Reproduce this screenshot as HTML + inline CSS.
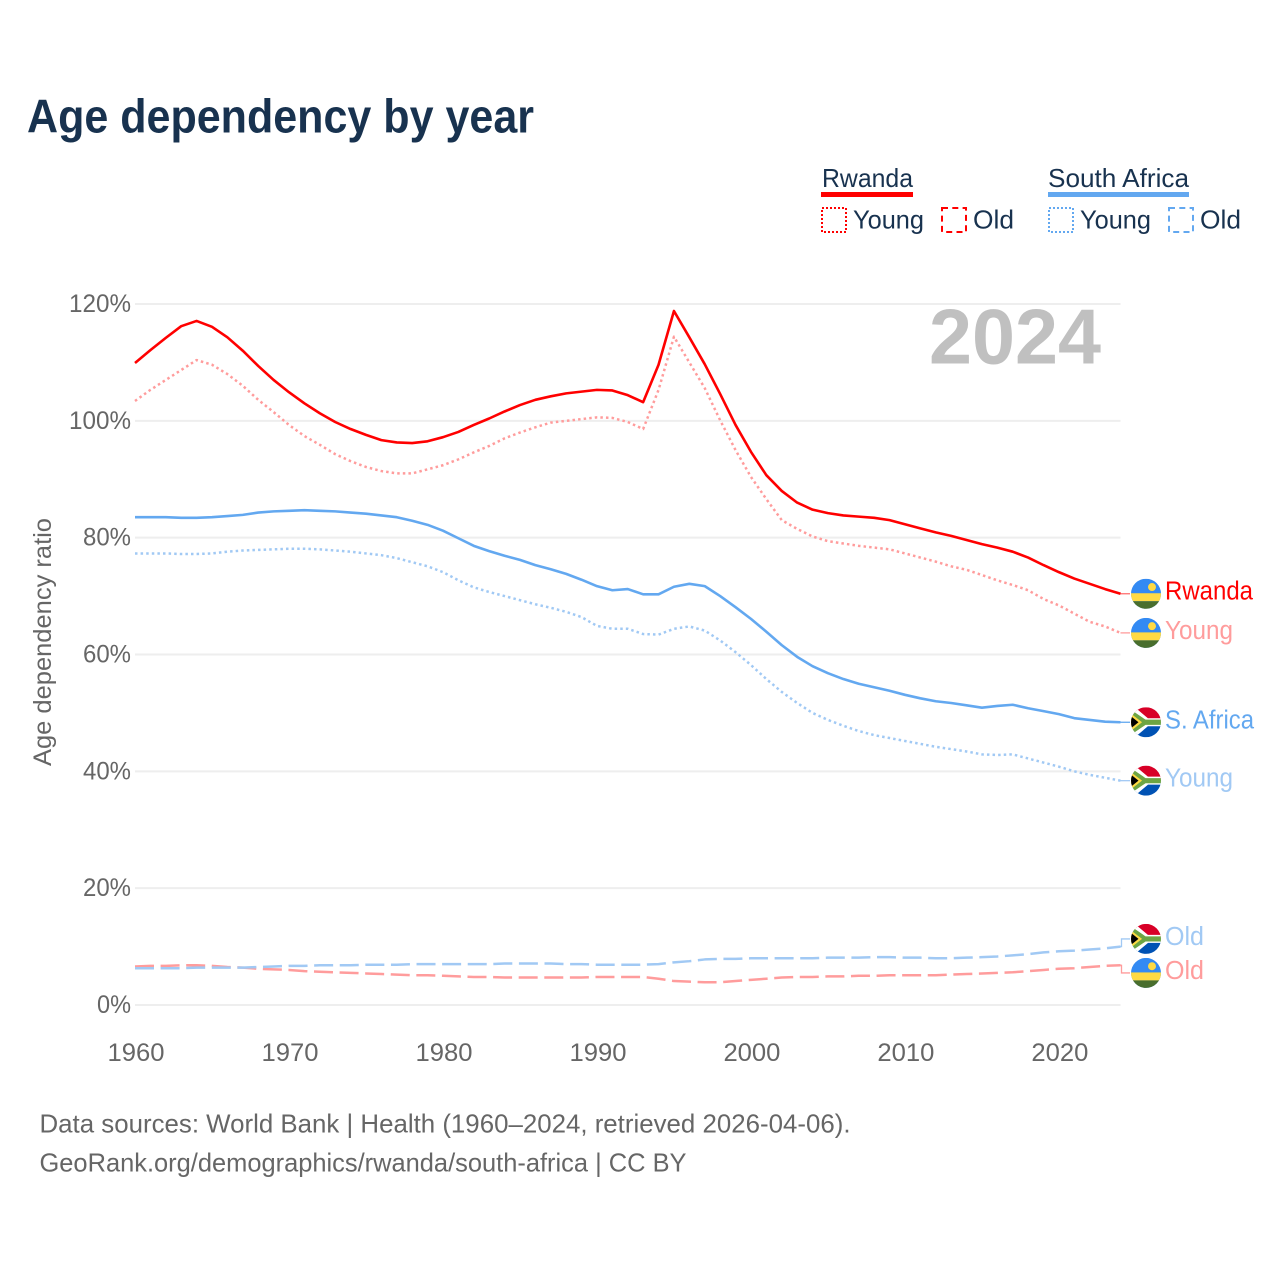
<!DOCTYPE html>
<html lang="en">
<head>
<meta charset="utf-8">
<title>Age dependency by year</title>
<style>
html,body{margin:0;padding:0;background:#fff;}
svg{display:block;font-family:"Liberation Sans",sans-serif;}
</style>
</head>
<body>
<svg id="chart" xmlns="http://www.w3.org/2000/svg" width="1280" height="1280" viewBox="0 0 1280 1280">
  <defs>
    <clipPath id="flag-clip"><circle cx="0" cy="0" r="15"/></clipPath>
    <g id="flag-rw" clip-path="url(#flag-clip)">
      <rect x="-15" y="-15" width="30" height="30" fill="#338af3"/>
      <rect x="-15" y="-0.5" width="30" height="8" fill="#ffda44"/>
      <rect x="-15" y="7.5" width="30" height="8" fill="#496e2d"/>
      <circle cx="6" cy="-6.7" r="4" fill="#ffda44"/>
    </g>
    <g id="flag-za" clip-path="url(#flag-clip)">
      <rect x="-15" y="-15" width="30" height="15" fill="#d80027"/>
      <rect x="-15" y="0" width="30" height="15" fill="#0052b4"/>
      <path d="M-15-15 L1-1.5 H15 V1.5 H1 L-15 15Z" fill="#fff" stroke="#fff" stroke-width="5"/>
      <path d="M-15-12.5 L-0.5-2.6 H15 V2.6 H-0.5 L-15 12.5Z" fill="#6da544"/>
      <path d="M-15-7 L-6 0 L-15 7Z" fill="#ffda44" stroke="#ffda44" stroke-width="2.5"/>
      <path d="M-15-6 L-7.5 0 L-15 6Z" fill="#000"/>
    </g>
  </defs>
  <rect x="0" y="0" width="1280" height="1280" fill="#fff"/>
  <text x="27" y="132.5" font-size="47" font-weight="700" fill="#18324f" textLength="507" lengthAdjust="spacingAndGlyphs">Age dependency by year</text>

  <g font-size="26" fill="#18324f">
    <g>
      <text x="822" y="187" textLength="91" lengthAdjust="spacingAndGlyphs">Rwanda</text>
      <rect x="821" y="192" width="92" height="5" fill="#ff0000"/>
      <rect x="822" y="208" width="24" height="24" fill="none" stroke="#ff0000" stroke-width="2" stroke-dasharray="2 2"/>
      <text x="853" y="228.5" textLength="71" lengthAdjust="spacingAndGlyphs">Young</text>
      <rect x="942" y="208" width="24" height="24" fill="none" stroke="#ff0000" stroke-width="2" stroke-dasharray="6 4.3"/>
      <text x="973" y="228.5" textLength="41" lengthAdjust="spacingAndGlyphs">Old</text>
    </g>
    <g>
      <text x="1048" y="187" textLength="141" lengthAdjust="spacingAndGlyphs">South Africa</text>
      <rect x="1048" y="192" width="141" height="5" fill="#63a8f0"/>
      <rect x="1049" y="208" width="24" height="24" fill="none" stroke="#63a8f0" stroke-width="2" stroke-dasharray="2 2"/>
      <text x="1080" y="228.5" textLength="71" lengthAdjust="spacingAndGlyphs">Young</text>
      <rect x="1169" y="208" width="24" height="24" fill="none" stroke="#63a8f0" stroke-width="2" stroke-dasharray="6 4.3"/>
      <text x="1200" y="228.5" textLength="41" lengthAdjust="spacingAndGlyphs">Old</text>
    </g>
  </g>

  <g id="grid"></g>
  <text x="929" y="363.5" font-size="78" font-weight="700" fill="#c0c0c0" textLength="172" lengthAdjust="spacingAndGlyphs">2024</text>
  <g id="y-ticks" font-size="25" fill="#666"></g>
  <g id="x-ticks" font-size="25" fill="#666"></g>
  <text transform="translate(51,766) rotate(-90)" x="0" y="0" font-size="25" fill="#666" textLength="248" lengthAdjust="spacingAndGlyphs">Age dependency ratio</text>
  <g id="series"></g>
  <g id="end-labels"></g>

  <text x="39.5" y="1132.5" font-size="26" fill="#666" textLength="811" lengthAdjust="spacingAndGlyphs">Data sources: World Bank | Health (1960–2024, retrieved 2026-04-06).</text>
  <text x="39.5" y="1171.5" font-size="26" fill="#666" textLength="647" lengthAdjust="spacingAndGlyphs">GeoRank.org/demographics/rwanda/south-africa | CC BY</text>
</svg>
<script>
const firstYear = 1960;
const lastYear = 2024;
const yTickValues = [0, 20, 40, 60, 80, 100, 120];
const xTickValues = [1960, 1970, 1980, 1990, 2000, 2010, 2020];

const rwandaTotal = [109.9,112.1,114.2,116.2,117.1,116.1,114.3,112,109.4,107,104.9,103,101.3,99.8,98.6,97.6,96.7,96.3,96.2,96.5,97.2,98.1,99.3,100.4,101.6,102.7,103.6,104.2,104.7,105,105.3,105.2,104.4,103.2,109.6,118.8,114.3,109.7,104.6,99.3,94.7,90.7,88,86,84.8,84.2,83.8,83.6,83.4,83,82.3,81.6,80.9,80.3,79.6,78.9,78.3,77.6,76.6,75.3,74.1,73,72.1,71.2,70.4];
const rwandaYoung = [103.4,105.3,107,108.7,110.4,109.6,108,106,103.6,101.5,99.3,97.4,95.9,94.3,93.1,92.1,91.4,91,91,91.7,92.4,93.4,94.6,95.7,97,98,98.9,99.7,100,100.3,100.6,100.5,99.8,98.6,105.3,114.4,110,105.6,100.1,95,90.4,86.6,83,81.5,80.2,79.4,79,78.6,78.3,78,77.3,76.6,75.9,75.1,74.5,73.6,72.7,71.9,71,69.5,68.4,67,65.6,64.8,63.7];
const rwandaOld = [6.6,6.7,6.7,6.8,6.8,6.7,6.5,6.4,6.2,6.1,6,5.8,5.7,5.6,5.5,5.4,5.3,5.2,5.1,5.1,5,4.9,4.8,4.8,4.7,4.7,4.7,4.7,4.7,4.7,4.8,4.8,4.8,4.8,4.5,4.1,4,3.9,3.9,4.1,4.3,4.5,4.7,4.8,4.8,4.9,4.9,5,5,5.1,5.1,5.1,5.1,5.2,5.3,5.4,5.5,5.6,5.8,6,6.2,6.3,6.5,6.7,6.8];
const africaTotal = [83.5,83.5,83.5,83.4,83.4,83.5,83.7,83.9,84.3,84.5,84.6,84.7,84.6,84.5,84.3,84.1,83.8,83.5,82.9,82.2,81.2,79.9,78.6,77.7,76.9,76.2,75.3,74.6,73.8,72.8,71.7,71,71.2,70.3,70.3,71.6,72.1,71.7,70,68.1,66.1,63.9,61.6,59.6,58,56.8,55.8,55,54.4,53.8,53.1,52.5,52,51.7,51.3,50.9,51.2,51.4,50.8,50.3,49.8,49.1,48.8,48.5,48.4];
const africaYoung = [77.3,77.3,77.3,77.2,77.2,77.3,77.6,77.8,77.9,78,78.1,78.1,78,77.8,77.6,77.3,77,76.5,75.8,75.1,74.1,72.7,71.5,70.7,70,69.3,68.6,68,67.3,66.4,64.9,64.4,64.4,63.5,63.4,64.4,64.8,64.1,62.4,60.4,58.2,55.8,53.6,51.7,50,48.8,47.8,46.9,46.2,45.7,45.2,44.7,44.2,43.8,43.4,42.9,42.8,42.9,42.2,41.5,40.8,40,39.4,38.9,38.4];
const africaOld = [6.3,6.3,6.3,6.3,6.4,6.4,6.4,6.4,6.5,6.6,6.7,6.7,6.8,6.8,6.8,6.9,6.9,6.9,7,7,7,7,7,7,7.1,7.1,7.1,7.1,7,7,6.9,6.9,6.9,6.9,7,7.3,7.5,7.8,7.9,7.9,8,8,8,8,8,8.1,8.1,8.1,8.2,8.2,8.1,8.1,8,8,8.1,8.2,8.3,8.5,8.7,9,9.2,9.3,9.5,9.7,10];

const seriesList = [
  {key:'rwanda-total', values:rwandaTotal, color:'#ff0000', dash:'', width:2.6, flag:'flag-rw', label:'Rwanda', labelWidth:88},
  {key:'rwanda-young', values:rwandaYoung, color:'#ff9c9c', dash:'2.5 3.1', width:2.5, flag:'flag-rw', label:'Young', labelWidth:68},
  {key:'rwanda-old', values:rwandaOld, color:'#ff9c9c', dash:'19 6.6', width:2.5, flag:'flag-rw', label:'Old', labelWidth:39},
  {key:'south-africa-total', values:africaTotal, color:'#63a8f0', dash:'', width:2.6, flag:'flag-za', label:'S. Africa', labelWidth:89},
  {key:'south-africa-young', values:africaYoung, color:'#a1c9f4', dash:'2.5 3.1', width:2.5, flag:'flag-za', label:'Young', labelWidth:68},
  {key:'south-africa-old', values:africaOld, color:'#a1c9f4', dash:'19 6.6', width:2.5, flag:'flag-za', label:'Old', labelWidth:39}
];

const NS = 'http://www.w3.org/2000/svg';
const xScale = function (year) { return 135 + (year - firstYear) * (985.5 / (lastYear - firstYear)); };
const yScale = function (v) { return 1005 - v * (701 / 120); };

function make(tag, parent, attrs) {
  const node = document.createElementNS(NS, tag);
  for (const k in attrs) node.setAttribute(k, attrs[k]);
  parent.appendChild(node);
  return node;
}

const gridGroup = document.getElementById('grid');
const yTickGroup = document.getElementById('y-ticks');
const xTickGroup = document.getElementById('x-ticks');
const seriesGroup = document.getElementById('series');
const labelGroup = document.getElementById('end-labels');

yTickValues.forEach(function (v) {
  const line = make('line', gridGroup, {x1:135, x2:xScale(lastYear), y1:yScale(v), y2:yScale(v), stroke:'#eeeeee', 'stroke-width':2});
  
  
  const t = make('text', yTickGroup, {x:131, y:yScale(v) + 8, 'text-anchor':'end', textLength:String(v).length * 14 + 20, lengthAdjust:'spacingAndGlyphs'});
  t.textContent = v + '%';
  
  
});

xTickValues.forEach(function (yr) {
  const t = make('text', xTickGroup, {x:xScale(yr) + 1, y:1061, 'text-anchor':'middle', textLength:57, lengthAdjust:'spacingAndGlyphs'});
  t.textContent = String(yr);
  
  
});

/* draw back-to-front so the stacking matches the picture */
[2, 5, 1, 4, 0, 3].forEach(function (idx) {
  const s = seriesList[idx];
  const pts = s.values.map(function (v, i) { return xScale(firstYear + i).toFixed(2) + ',' + yScale(v).toFixed(2); }).join(' ');
  const attrs = {points:pts, fill:'none', stroke:s.color, 'stroke-width':s.width, 'stroke-linejoin':'round'};
  if (s.dash) attrs['stroke-dasharray'] = s.dash;
  const line = make('polyline', seriesGroup, attrs);
  
  
});

/* end labels: start from each series' last value, then push apart when they collide */
const placed = seriesList.map(function (s) {
  const endY = yScale(s.values[s.values.length - 1]);
  return {s:s, endY:endY, y:endY};
}).sort(function (a, b) { return a.endY - b.endY; });
for (let i = 1; i < placed.length; i++) {
  const gap = placed[i].y - placed[i - 1].y;
  if (gap < 34) {
    const mid = (placed[i].y + placed[i - 1].y) / 2;
    placed[i - 1].y = mid - 17;
    placed[i].y = mid + 17;
  }
}

const endX = xScale(lastYear);
placed.forEach(function (p) {
  const s = p.s;
  const g = make('g', labelGroup, {});
  
  
  const conn = make('path', g, {d:'M' + endX + ' ' + p.endY + ' L' + (endX + 1) + ' ' + p.endY + ' V' + p.y + ' H1130', fill:'none', stroke:s.color === '#ff0000' ? '#ff7070' : s.color, 'stroke-width':1.3});
  
  
  const flag = make('use', g, {href:'#' + s.flag, transform:'translate(1146,' + p.y + ')'});
  
  
  const t = make('text', g, {x:1165, y:p.y + 6, 'font-size':25.5, fill:s.color, textLength:s.labelWidth, lengthAdjust:'spacingAndGlyphs'});
  t.textContent = s.label;
  
  
});
</script>
</body>
</html>
